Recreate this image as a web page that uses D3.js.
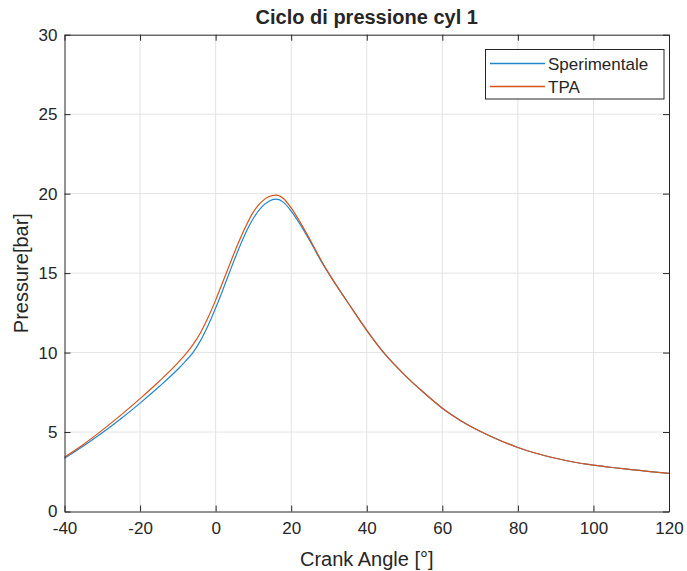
<!DOCTYPE html>
<html>
<head>
<meta charset="utf-8">
<script src="https://cdn.jsdelivr.net/npm/d3@7"></script>
<style>
  html, body { margin: 0; padding: 0; background: #fff; }
  svg text { font-family: "Liberation Sans", Arial, Helvetica, sans-serif; fill: #262626; }
</style>
</head>
<body>
<svg id="chart" width="687" height="571"></svg>
<script>
// Crank angle samples [deg]
const angleExp = [-40, -35, -30, -25, -20, -15, -10, -8, -6, -4, -2, 0, 2, 4, 6, 8, 10, 12, 14, 16, 18, 20, 22, 25, 28, 30, 33, 35, 40, 45, 50, 55, 60, 65, 70, 75, 80, 85, 90, 95, 100, 105, 110, 115, 120];
// Measured cylinder pressure [bar]
const pressureExp = [3.35, 4.12, 4.95, 5.85, 6.82, 7.85, 8.95, 9.45, 10.0, 10.75, 11.7, 12.8, 14.0, 15.25, 16.45, 17.55, 18.45, 19.1, 19.5, 19.65, 19.45, 18.9, 18.2, 17.0, 15.72, 14.95, 13.85, 13.15, 11.4, 9.85, 8.6, 7.5, 6.5, 5.7, 5.05, 4.5, 4.03, 3.65, 3.35, 3.1, 2.92, 2.77, 2.64, 2.51, 2.4];
// TPA model pressure [bar]
const angleTpa = angleExp;
const pressureTpa = [3.42, 4.22, 5.12, 6.08, 7.1, 8.18, 9.35, 9.88, 10.5, 11.25, 12.2, 13.3, 14.5, 15.72, 16.9, 17.95, 18.85, 19.45, 19.8, 19.9, 19.68, 19.1, 18.35, 17.1, 15.78, 14.97, 13.86, 13.15, 11.4, 9.85, 8.6, 7.5, 6.5, 5.7, 5.05, 4.5, 4.03, 3.65, 3.35, 3.1, 2.92, 2.77, 2.64, 2.51, 2.4];

const xTicks = [-40, -20, 0, 20, 40, 60, 80, 100, 120];
const yTicks = [0, 5, 10, 15, 20, 25, 30];
const seriesNames = ["Sperimentale", "TPA"];
const seriesColors = ["#1f88cc", "#D95319"];

const titleText = "Ciclo di pressione cyl 1";
const xLabel = "Crank Angle [°]";
const yLabel = "Pressure[bar]";

const margin = { left: 64.5, right: 18, top: 34.7, bottom: 59.5 };
const W = 687, H = 571;
const svg = d3.select("#chart");

const x = d3.scaleLinear().domain([-40, 120]).range([margin.left, W - margin.right]);
const y = d3.scaleLinear().domain([0, 30]).range([H - margin.bottom, margin.top]);

const axisColor = "#262626";
const gridColor = "#e3e3e3";

// grid
const grid = svg.append("g");
grid.selectAll(".gx").data(xTicks.slice(1, -1)).join("line")
  .attr("x1", d => x(d)).attr("x2", d => x(d))
  .attr("y1", y(0)).attr("y2", y(30))
  .attr("stroke", gridColor).attr("stroke-width", 1);
grid.selectAll(".gy").data(yTicks.slice(1, -1)).join("line")
  .attr("x1", x(-40)).attr("x2", x(120))
  .attr("y1", d => y(d)).attr("y2", d => y(d))
  .attr("stroke", gridColor).attr("stroke-width", 1);

// series
const line = d3.line().x(d => x(d[0])).y(d => y(d[1])).curve(d3.curveMonotoneX);
const series = [
  d3.zip(angleExp, pressureExp),
  d3.zip(angleTpa, pressureTpa)
];
svg.append("g").selectAll("path").data(series).join("path")
  .attr("d", line)
  .attr("fill", "none")
  .attr("stroke", (d, i) => seriesColors[i])
  .attr("stroke-width", 1.2);

// axes (box with inward ticks)
const tickLen = 6;
const plain = d => String(d);
const axB = d3.axisBottom(x).tickValues(xTicks).tickFormat(plain).tickSizeInner(-tickLen).tickSizeOuter(0).tickPadding(10);
const axL = d3.axisLeft(y).tickValues(yTicks).tickFormat(plain).tickSizeInner(-tickLen).tickSizeOuter(0).tickPadding(7);
const axT = d3.axisTop(x).tickValues(xTicks).tickSizeInner(-tickLen).tickSizeOuter(0).tickFormat("");
const axR = d3.axisRight(y).tickValues(yTicks).tickSizeInner(-tickLen).tickSizeOuter(0).tickFormat("");

function styleAxis(g) {
  g.selectAll("path.domain").attr("stroke", axisColor).attr("stroke-width", 1);
  g.selectAll(".tick line").attr("stroke", axisColor).attr("stroke-width", 1);
  g.selectAll(".tick text").attr("font-size", 17).attr("fill", axisColor)
    .attr("font-family", "'Liberation Sans', Arial, sans-serif");
}
svg.append("g").attr("transform", `translate(0,${y(0)})`).call(axB).call(styleAxis);
svg.append("g").attr("transform", `translate(${x(-40)},0)`).call(axL).call(styleAxis);
svg.append("g").attr("transform", `translate(0,${y(30)})`).call(axT).call(styleAxis);
svg.append("g").attr("transform", `translate(${x(120)},0)`).call(axR).call(styleAxis);

// title and axis labels
svg.append("text").attr("x", (x(-40) + x(120)) / 2).attr("y", 24)
  .attr("text-anchor", "middle").attr("font-size", 20).attr("font-weight", "bold")
  .attr("fill", "#000").text(titleText);
svg.append("text").attr("x", (x(-40) + x(120)) / 2).attr("y", 566)
  .attr("text-anchor", "middle").attr("font-size", 20).text(xLabel);
svg.append("text")
  .attr("transform", `translate(28,${(y(0) + y(30)) / 2}) rotate(-90)`)
  .attr("text-anchor", "middle").attr("font-size", 20).text(yLabel);

// legend
const lg = svg.append("g");
lg.append("rect").attr("x", 485.5).attr("y", 49.5).attr("width", 178.5).attr("height", 49.5)
  .attr("fill", "#fff").attr("stroke", axisColor).attr("stroke-width", 1);
seriesNames.forEach((name, i) => {
  const cy = i === 0 ? 63.5 : 86.5;
  lg.append("line").attr("x1", 490).attr("x2", 545).attr("y1", cy).attr("y2", cy)
    .attr("stroke", seriesColors[i]).attr("stroke-width", 1.4);
  lg.append("text").attr("x", 548).attr("y", cy + 6).attr("font-size", 17).text(name);
});
</script>
</body>
</html>
